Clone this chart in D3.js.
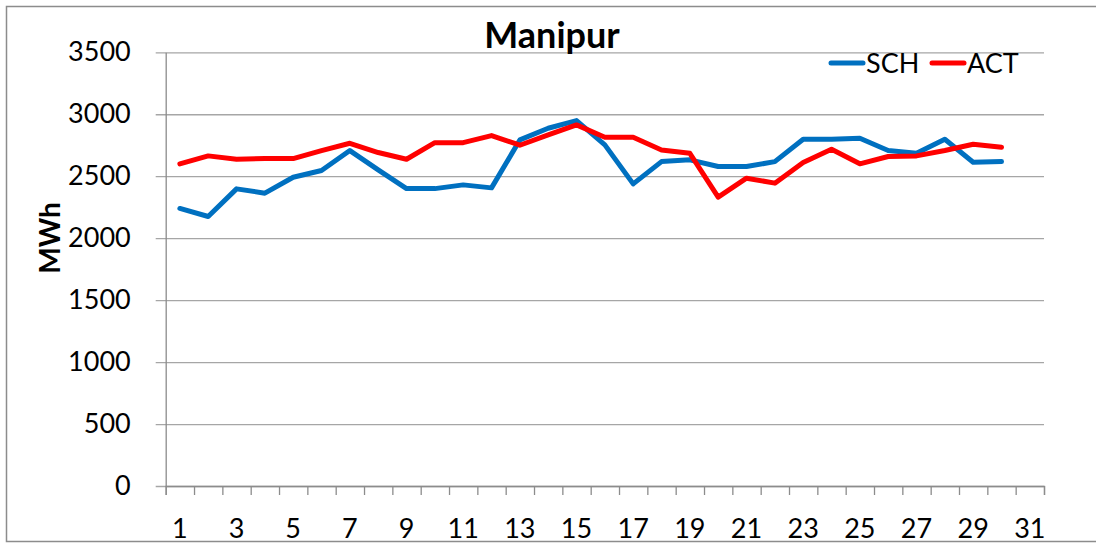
<!DOCTYPE html>
<html>
<head>
<meta charset="utf-8">
<script src="https://cdn.jsdelivr.net/npm/d3@7"></script>
<style>
  html, body { margin: 0; padding: 0; background: #fff; }
  svg { display: block; font-family: Lato, "Open Sans", sans-serif; }
</style>
</head>
<body>
<script>
const DAYS = d3.range(1, 32)
const SCH = [2240,2175,2398,2363,2492,2546,2707,2551,2400,2400,2430,2406,2793,2887,2949,2753,2438,2618,2632,2578,2578,2618,2798,2798,2806,2707,2685,2798,2613,2618]
const ACT = [2600,2664,2637,2642,2642,2707,2766,2691,2637,2771,2771,2828,2750,2833,2914,2815,2815,2712,2685,2331,2484,2444,2610,2718,2600,2659,2664,2707,2758,2734]
const Y_TICKS = [0,500,1000,1500,2000,2500,3000,3500]
const X_LABELS = DAYS.filter(d => d % 2 === 1)
const SERIES = [
  { name: "SCH", values: SCH, color: "#0070C0" },
  { name: "ACT", values: ACT, color: "#FF0000" }
]

const width = 1096, height = 545
const margin = { top: 52.3, right: 52, bottom: 59, left: 165.7 }
const innerW = width - margin.left - margin.right
const innerH = height - margin.top - margin.bottom

const svg = d3.select("body").append("svg")
  .attr("width", width).attr("height", height)

// chart border
svg.append("path")
  .attr("d", `M${width},6.5 H6.5 V541.5 H${width}`)
  .attr("fill", "none").attr("stroke", "#8c8c8c").attr("stroke-width", 1.5)

const x = d3.scaleBand().domain(DAYS).range([margin.left, margin.left + innerW])
const xTicks = d3.scaleLinear().domain([0, 31]).range([margin.left, margin.left + innerW])
const y = d3.scaleLinear().domain([0, 3500]).range([margin.top + innerH, margin.top])

// gridlines (with outer tick marks)
svg.append("g")
  .attr("transform", `translate(${margin.left - 10},0)`)
  .call(d3.axisRight(y).tickValues(Y_TICKS).tickSize(innerW + 10).tickFormat(""))
  .call(g => g.select(".domain").remove())
  .call(g => g.selectAll("line").attr("stroke", "#a6a6a6").attr("stroke-width", 1.3))

// y labels
svg.append("g")
  .attr("transform", `translate(${margin.left},0)`)
  .call(d3.axisLeft(y).tickValues(Y_TICKS).tickSize(0).tickPadding(35).tickFormat(d3.format("d")))
  .call(g => g.select(".domain").attr("stroke", "#8c8c8c").attr("stroke-width", 1.3))
  .call(g => g.selectAll("text").attr("font-size", 27).attr("fill", "#000")
    .attr("font-family", "Lato, sans-serif"))

// x tick marks at category boundaries
svg.append("g")
  .attr("transform", `translate(0,${margin.top + innerH})`)
  .call(d3.axisBottom(xTicks).ticks(31).tickSize(9).tickFormat(""))
  .call(g => g.select(".domain").attr("stroke", "#8c8c8c").attr("stroke-width", 1.3))
  .call(g => g.selectAll("line").attr("stroke", "#8c8c8c").attr("stroke-width", 1.3))

// x labels
svg.append("g")
  .attr("transform", `translate(0,${margin.top + innerH})`)
  .call(d3.axisBottom(x).tickValues(X_LABELS).tickSize(0).tickPadding(33))
  .call(g => g.select(".domain").remove())
  .call(g => g.selectAll("text").attr("font-size", 27).attr("fill", "#000")
    .attr("font-family", "Lato, sans-serif"))

// lines
const line = d3.line()
  .x((d, i) => x(DAYS[i]) + x.bandwidth() / 2)
  .y(d => y(d))

svg.selectAll(".series").data(SERIES).enter().append("path")
  .attr("class", "series")
  .attr("d", d => line(d.values))
  .attr("fill", "none")
  .attr("stroke", d => d.color)
  .attr("stroke-width", 5)
  .attr("stroke-linejoin", "round")
  .attr("stroke-linecap", "round")

// title
svg.append("text")
  .attr("x", 552).attr("y", 48)
  .attr("text-anchor", "middle")
  .attr("font-size", 36).attr("font-weight", "bold")
  .text("Manipur")

// y axis title
svg.append("text")
  .attr("transform", "translate(60,238) rotate(-90)")
  .attr("text-anchor", "middle")
  .attr("font-size", 28).attr("font-weight", "bold")
  .text("MWh")

// legend
const legendX = [831, 932]
const legend = svg.selectAll(".legend").data(SERIES).enter().append("g")
  .attr("class", "legend")
  .attr("transform", (d, i) => `translate(${legendX[i]},63)`)
legend.append("line")
  .attr("x1", 0).attr("x2", 32)
  .attr("stroke", d => d.color).attr("stroke-width", 5)
  .attr("stroke-linecap", "round")
legend.append("text")
  .attr("x", 35).attr("y", 9.5)
  .attr("font-size", 27)
  .text(d => d.name)
</script>
</body>
</html>
